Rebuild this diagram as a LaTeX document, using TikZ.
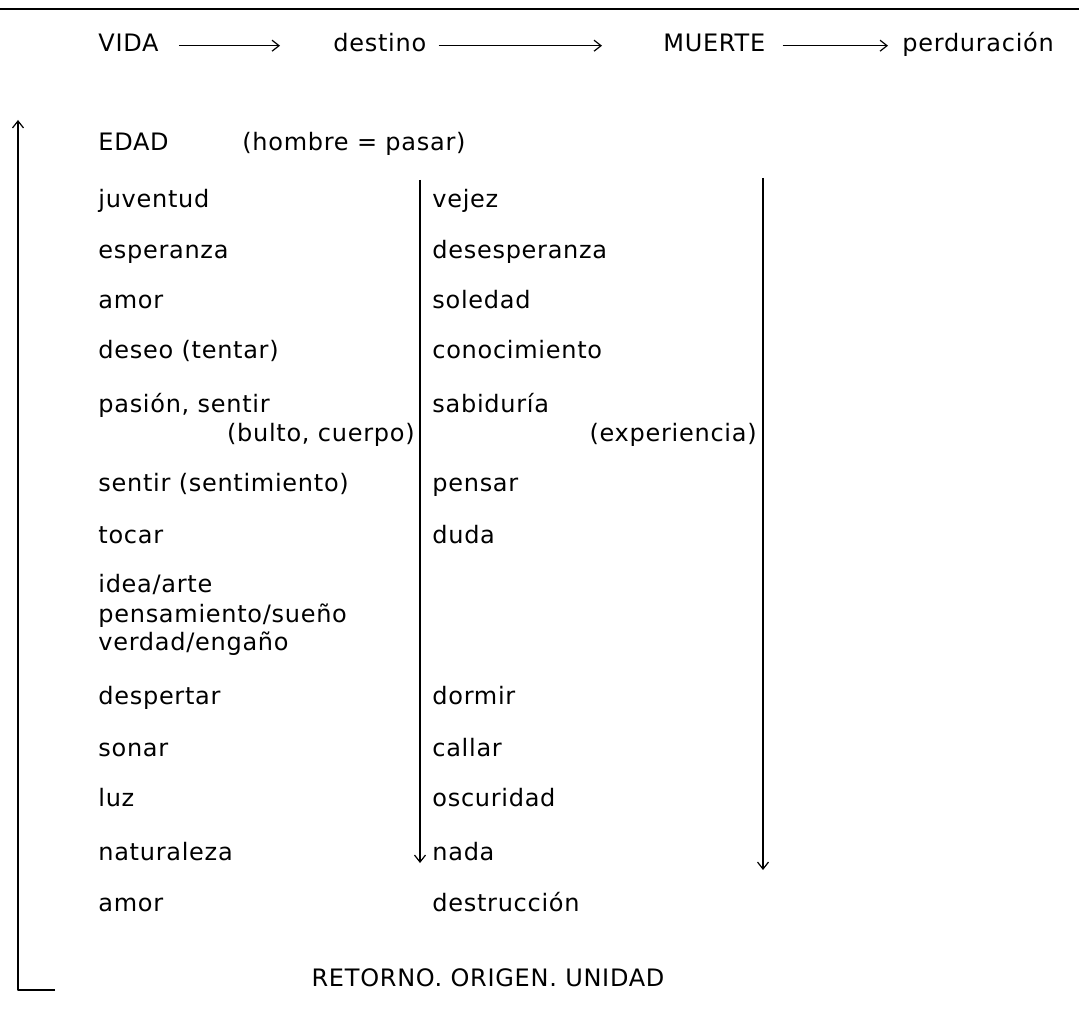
\documentclass[tikz,border=0pt]{standalone}
\usepackage{fontspec}
\setmainfont{DejaVu Sans}[LetterSpace=3]
\usetikzlibrary{positioning,calc,arrows.meta}

\begin{document}
\begin{tikzpicture}[x=0.5pt, y=-0.5pt, line join=round,
  every node/.style={inner sep=0pt, text height=9pt, text depth=2.7pt,
                     font=\fontsize{12}{14.5}\selectfont},
  item/.style={anchor=base west},
  ritem/.style={anchor=base east},
  arr/.style={-{Straight Barb[length=3.5pt,width=5.5pt]}, line width=0.6pt}]
\useasboundingbox (0,0) rectangle (1079,1021);
\draw[line width=1pt] (0,9) -- (1079,9);
% top row
\node[item] (vida)    at (98,52)  {VIDA};
\node[item] (destino) at (333,52) {destino};
\node[item] (muerte)  at (663,52) {MUERTE};
\node[item] (perdur)  at (902,52) {perduración};
\draw[arr] ([xshift=10pt]vida.east)   -- ([xshift=-26.5pt]vida.east -| destino.west);
\draw[arr] ([xshift=6pt]destino.east) -- ([xshift=-30.5pt]destino.east -| muerte.west);
\draw[arr] ([xshift=8.5pt]muerte.east) -- ([xshift=-7pt]muerte.east -| perdur.west);
% left column
\node[item] (edad)   at (98,151)  {EDAD};
\node[item] (hombre) at (242,151) {(hombre = pasar)};
\node[item] (juv)    at (98,208)  {juventud};
\node[item] (esp)    at (98,258)  {esperanza};
\node[item] (amor)   at (98,308)  {amor};
\node[item] (deseo)  at (98,358)  {deseo (tentar)};
\node[item] (pasion) at (98,412)  {pasión, sentir};
\node[ritem] (bulto) at (415,441) {(bulto, cuerpo)};
\node[item] (sentir) at (98,491)  {sentir (sentimiento)};
\node[item] (tocar)  at (98,543)  {tocar};
\node[item] (idea)   at (98,592)  {idea/arte};
\node[item] (pensam) at (98,622)  {pensamiento/sueño};
\node[item] (verdad) at (98,650)  {verdad/engaño};
\node[item] (desp)   at (98,704)  {despertar};
\node[item] (sonar)  at (98,756)  {sonar};
\node[item] (luz)    at (98,806)  {luz};
\node[item] (natur)  at (98,860)  {naturaleza};
\node[item] (amorb)  at (98,911)  {amor};
% right column
\node[item] (vejez)  at (432,208) {vejez};
\node[item] (desesp) at (432,258) {desesperanza};
\node[item] (soled)  at (432,308) {soledad};
\node[item] (conoc)  at (432,358) {conocimiento};
\node[item] (sabid)  at (432,412) {sabiduría};
\node[ritem] (exper) at (757,441) {(experiencia)};
\node[item] (pensar) at (432,491) {pensar};
\node[item] (duda)   at (432,543) {duda};
\node[item] (dormir) at (432,704) {dormir};
\node[item] (callar) at (432,756) {callar};
\node[item] (oscur)  at (432,806) {oscuridad};
\node[item] (nada)   at (432,860) {nada};
\node[item] (destr)  at (432,911) {destrucción};
\node[anchor=base] (retorno) at (488,986) {RETORNO. ORIGEN. UNIDAD};
% lines
\coordinate (midtop) at (420,180);
\coordinate (midend) at (420,863);
\coordinate (rtop)   at (763,178);
\coordinate (rend)   at (763,870);
\coordinate (lbot)   at (55,990);
\coordinate (lcorn)  at (18,990);
\coordinate (ltop)   at (18,120);
\draw[arr] (midtop) -- (midend);
\draw[arr] (rtop) -- (rend);
\draw[arr] (lbot) -- (lcorn) -- (ltop);
\end{tikzpicture}
\end{document}
